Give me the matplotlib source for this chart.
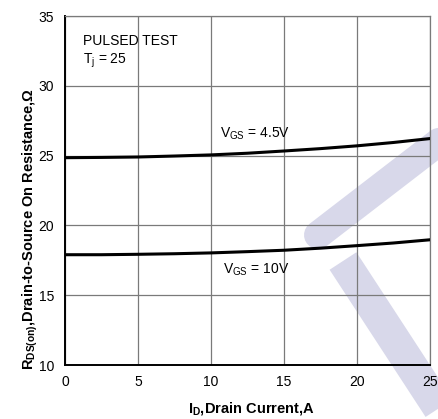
import matplotlib
matplotlib.use("Agg")
import matplotlib.pyplot as plt
from matplotlib.lines import Line2D

plt.rcParams['font.family'] = ['Liberation Sans', 'DejaVu Sans']
plt.rcParams['mathtext.fontset'] = 'custom'
plt.rcParams['mathtext.rm'] = 'Liberation Sans'
plt.rcParams['mathtext.it'] = 'Liberation Sans:italic'
plt.rcParams['mathtext.bf'] = 'Liberation Sans:bold'

# Rds(on) vs drain current, pulsed test
id_amps = [0, 2.5, 5, 7.5, 10, 12.5, 15, 17.5, 20, 22.5, 25]
rds_vgs45 = [24.85, 24.87, 24.9, 24.97, 25.05, 25.17, 25.33, 25.5, 25.7, 25.94, 26.22]
rds_vgs10 = [17.9, 17.9, 17.93, 17.97, 18.03, 18.12, 18.22, 18.37, 18.55, 18.74, 18.97]
x_ticks = [0, 5, 10, 15, 20, 25]
y_ticks = [10, 15, 20, 25, 30, 35]

W, H = 439, 419
fig = plt.figure(figsize=(W / 100, H / 100), dpi=100)
fig.patch.set_facecolor('white')


def px(x, y):
    return (x / W, 1 - y / H)


# light logo strokes in the background (pixel coords, width in px)
wm = '#d8d8ea'
strokes = [((318, 235), (470, 118), 28, 'round'),
           ((343, 261), (463, 445), 32, 'butt'),
           ((441, 188), (500, 280), 32, 'butt')]
for (x0, y0), (x1, y1), w, cap in strokes:
    a, b = px(x0, y0)
    c, d = px(x1, y1)
    fig.add_artist(Line2D([a, c], [b, d], color=wm, lw=w * 0.72,
                          solid_capstyle=cap, zorder=0,
                          transform=fig.transFigure))

ax = fig.add_axes([65 / W, 1 - 365 / H, 365 / W, 349 / H])
ax.patch.set_alpha(0)
ax.set_zorder(1)

ax.plot(id_amps, rds_vgs45, color='black', lw=2.2, zorder=3)
ax.plot(id_amps, rds_vgs10, color='black', lw=2.2, zorder=3)

ax.set_xlim(0, 25)
ax.set_ylim(10, 35)
ax.set_xticks(x_ticks)
ax.set_yticks(y_ticks)
ax.tick_params(length=0, labelsize=10)
ax.tick_params(axis='x', pad=7)
ax.tick_params(axis='y', pad=8)
ax.grid(True, color='#7a7a7a', lw=0.9)
ax.set_axisbelow(True)

for side in ['top', 'right']:
    ax.spines[side].set_color('#7a7a7a')
    ax.spines[side].set_linewidth(0.9)
for side in ['left', 'bottom']:
    ax.spines[side].set_color('black')
    ax.spines[side].set_linewidth(1.4)

ax.text(1.2, 33.2, 'PULSED TEST', fontsize=10, va='center')
ax.text(1.2, 31.8, r'T$_\mathrm{j}$ = 25', fontsize=10, va='center')
ax.text(10.6, 26.55, r'V$_\mathrm{GS}$ = 4.5V', fontsize=10, va='center')
ax.text(10.8, 16.8, r'V$_\mathrm{GS}$ = 10V', fontsize=10, va='center')

ax.set_xlabel(r'I$_\mathbf{D}$,Drain Current,A', fontsize=10.5,
              fontweight='bold', va='center')
ax.set_ylabel(r'R$_\mathbf{DS(on)}$,Drain-to-Source On Resistance,$\mathbf{\Omega}$',
              fontsize=10.5, fontweight='bold', va='center')
ax.xaxis.set_label_coords((251 - 65) / 365, (365 - 408) / 349)
ax.yaxis.set_label_coords((30 - 65) / 365, (365 - 229) / 349)

fig.savefig('out.png', dpi=100)
